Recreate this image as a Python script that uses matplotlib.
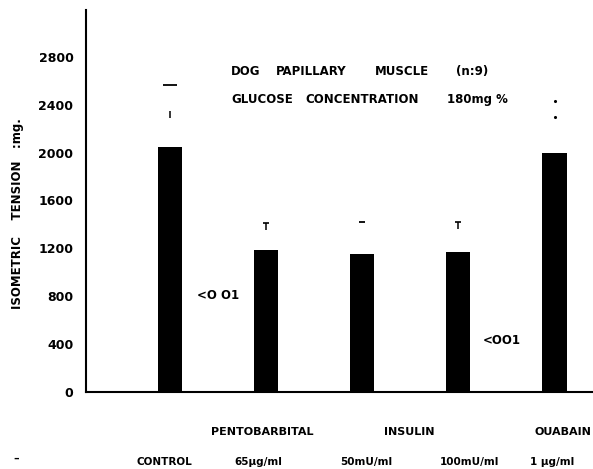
import numpy as np
import matplotlib
matplotlib.use('Agg')
import matplotlib.pyplot as plt

# bar data (isometric tension, mg)
groups = ['PENTOBARBITAL', 'INSULIN', 'OUABAIN']
doses = ['CONTROL', '65\u00b5g/ml', '50mU/ml', '100mU/ml', '1 \u00b5g/ml']
tension = [2045, 1185, 1155, 1170, 1995]
# the small marks drawn above each bar (upper mark / lower mark)
mark_hi = [2565, 1410, 1420, 1420, 2430]
mark_lo = [2315, 1385, np.nan, 1395, 2300]
yticks = [0, 400, 800, 1200, 1600, 2000, 2400, 2800]

plt.rcParams['font.family'] = 'DejaVu Sans'

fig = plt.figure(figsize=(5.93, 4.69), dpi=100)
ax = fig.add_axes([0.145, 0.164, 0.855, 0.8145])

x = np.arange(1, len(tension) + 1)
ax.bar(x, tension, width=0.25, color='black')

# marks above the bars
ax.scatter(x[0], mark_hi[0], marker='_', s=90, color='black', linewidths=1.3)
ax.scatter(x[2], mark_hi[2], marker='_', s=25, color='black', linewidths=1.3)
ax.scatter(x[[1, 3]], [mark_hi[1], mark_hi[3]], marker='_', s=16, color='black', linewidths=1.2)
ax.vlines(x[[0, 1, 3]], [mark_lo[0] - 30, mark_lo[1] - 35, mark_lo[3] - 30],
          [mark_lo[0] + 30, mark_hi[1], mark_hi[3]], color='black', lw=1.1)
ax.scatter([x[4], x[4]], [mark_hi[4], mark_lo[4]], marker='.', s=6, color='black')

ax.set_xlim(0.13, 5.40)
ax.set_ylim(0, 3190)
ax.set_yticks(yticks)
ax.set_yticklabels([str(v) for v in yticks], fontsize=9, fontweight='bold')
ax.set_xticks([])
ax.tick_params(axis='y', length=0, pad=9)
for s in ['top', 'right']:
    ax.spines[s].set_visible(False)
ax.spines['left'].set_linewidth(1.5)
ax.spines['bottom'].set_linewidth(1.5)

fig.text(0.029, 0.545, 'ISOMETRIC    TENSION   :mg.', fontsize=8.5, fontweight='bold',
         rotation=90, ha='center', va='center')

# title lines, word by word (the original is widely letter-spaced)
px = 0.01039  # data units per pixel along x
line1 = [('DOG', 246), ('PAPILLARY', 311), ('MUSCLE', 402), ('(n:9)', 472)]
line2 = [('GLUCOSE', 262), ('CONCENTRATION', 362), ('180mg %', 478)]
for word, p in line1:
    ax.text(0.13 + (p - 86) * px, 2680, word, fontsize=8.5, fontweight='bold',
            ha='center', va='center')
for word, p in line2:
    ax.text(0.13 + (p - 86) * px, 2440, word, fontsize=8.5, fontweight='bold',
            ha='center', va='center')

ax.text(1.28, 810, '<O O1', fontsize=8.5, fontweight='bold', va='center')
ax.text(4.255, 434, '<OO1', fontsize=8.5, fontweight='bold', va='center')

# category labels under the axis
row1_x = [1.96, 3.486, 5.387]
row1_ha = ['center', 'center', 'right']
for xp, ha, lab in zip(row1_x, row1_ha, groups):
    ax.text(xp, -334, lab, fontsize=8, fontweight='bold', ha=ha, va='center',
            clip_on=False)
row2_off = [-0.06, -0.083, 0.039, 0.12, -0.028]
for xp, off, lab in zip(x, row2_off, doses):
    ax.text(xp + off, -585, lab, fontsize=7.5, fontweight='bold', ha='center', va='center',
            clip_on=False)
fig.text(0.022, 0.015, '\u2013', fontsize=8, fontweight='bold')

fig.savefig('out.png', dpi=100)
